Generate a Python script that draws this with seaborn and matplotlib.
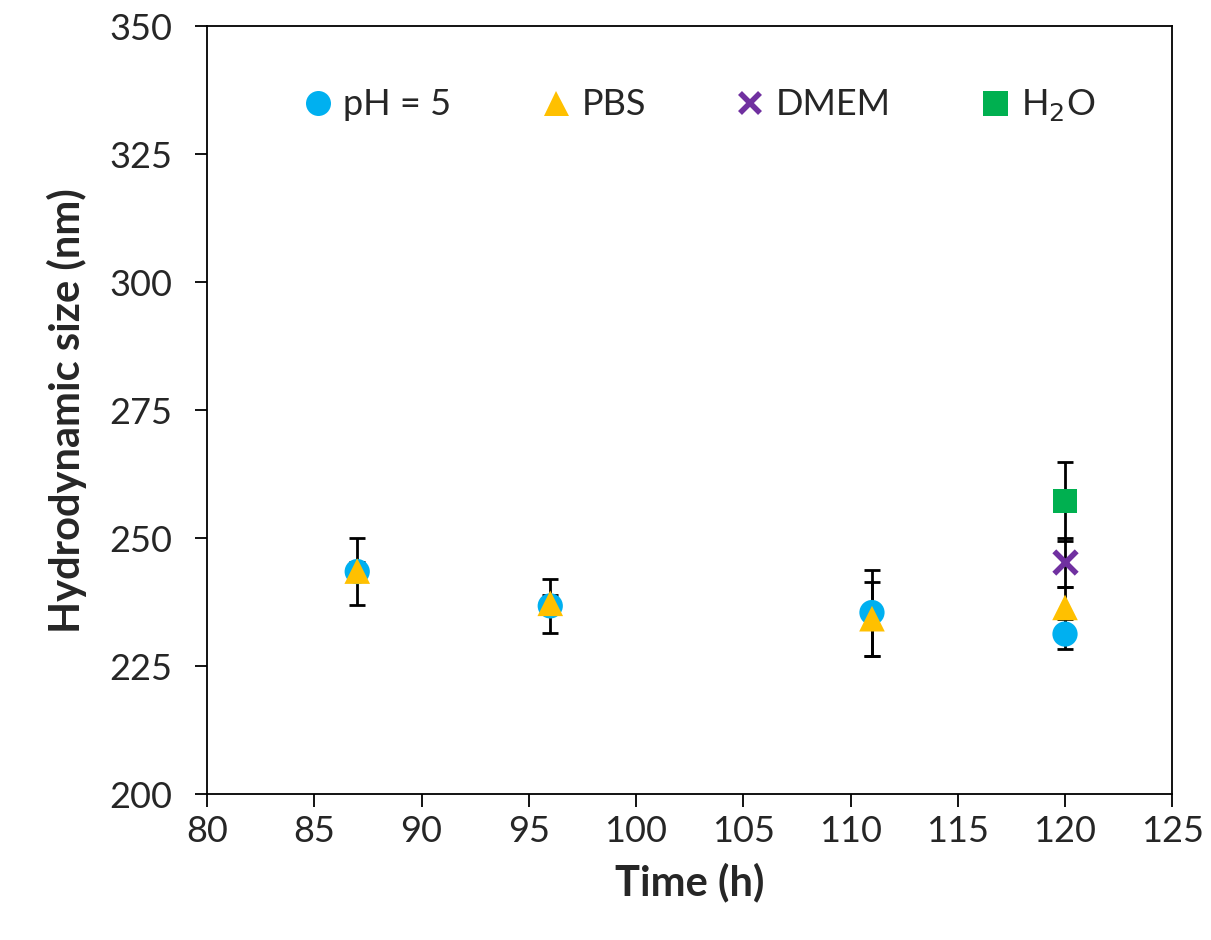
import matplotlib
matplotlib.use("Agg")
import matplotlib.pyplot as plt
from matplotlib.lines import Line2D
import seaborn as sns
import pandas as pd

# values
media = ["pH = 5", "PBS", "DMEM", "H$_2$O"]
time_ph5 = [87, 96, 111, 120]
size_ph5 = [243.5, 236.8, 235.5, 231.3]
err_ph5 = [6.5, 5.3, 8.4, 3.0]
time_pbs = [87, 96, 111, 120]
size_pbs = [243.6, 237.3, 234.3, 236.5]
err_pbs = [1.7, 1.6, 7.2, 4.0]
time_dmem = [120]
size_dmem = [245.3]
err_dmem = [4.8]
time_h2o = [120]
size_h2o = [257.2]
err_h2o = [7.8]

colors = {"pH = 5": "#00B0F0", "PBS": "#FFC000", "DMEM": "#7030A0", "H$_2$O": "#00B050"}
markers = {"pH = 5": "o", "PBS": "^", "DMEM": "x", "H$_2$O": "s"}
sizes = {"pH = 5": 330, "PBS": 340, "DMEM": 260, "H$_2$O": 300}

frames = []
for name, t, s, e in zip(media,
                         [time_ph5, time_pbs, time_dmem, time_h2o],
                         [size_ph5, size_pbs, size_dmem, size_h2o],
                         [err_ph5, err_pbs, err_dmem, err_h2o]):
    frames.append(pd.DataFrame({"Time": t, "Size": s, "Err": e, "Medium": name}))
df = pd.concat(frames, ignore_index=True)

sns.set_style("ticks")
plt.rcParams["font.family"] = ["Lato", "DejaVu Sans"]

fig = plt.figure(figsize=(12.11, 9.4), dpi=100)
ax = fig.add_axes([0.171, 0.155, 0.797, 0.817])

# error bars first, markers on top
ax.errorbar(df["Time"], df["Size"], yerr=df["Err"], fmt="none", ecolor="black",
            elinewidth=2, capsize=6, capthick=2, zorder=2)

for name in media:
    sub = df[df["Medium"] == name]
    if markers[name] == "x":
        sns.scatterplot(data=sub, x="Time", y="Size", color=colors[name], marker="x",
                        s=sizes[name], linewidth=4, ax=ax, zorder=3, legend=False)
    else:
        sns.scatterplot(data=sub, x="Time", y="Size", color=colors[name], marker=markers[name],
                        s=sizes[name], edgecolor="none", ax=ax, zorder=3, legend=False)

ax.set_xlim(80, 125)
ax.set_ylim(200, 350)
ax.set_xticks(range(80, 126, 5))
ax.set_yticks(range(200, 351, 25))
ax.tick_params(labelsize=26, length=9, width=1.3, color="black", direction="out", pad=6)
ax.tick_params(axis="y", pad=16)
for sp in ax.spines.values():
    sp.set_color("black")
    sp.set_linewidth(1.3)

ax.set_xlabel("Time (h)", fontsize=30, fontweight="bold", labelpad=10)
ax.set_ylabel("Hydrodynamic size (nm)", fontsize=30, fontweight="bold", labelpad=16)

handles = []
for m in media:
    if markers[m] == "x":
        handles.append(Line2D([], [], linestyle="none", marker="x", color=colors[m],
                              markeredgewidth=4, markersize=15))
    else:
        handles.append(Line2D([], [], linestyle="none", marker=markers[m], color=colors[m],
                              markeredgewidth=0, markersize=18))
ax.legend(handles, media, loc="center", bbox_to_anchor=(0.508, 0.897), ncol=4,
          frameon=False, fontsize=26, handletextpad=0.2, columnspacing=2.4,
          handlelength=1.0)

fig.savefig("out.png", dpi=100)
